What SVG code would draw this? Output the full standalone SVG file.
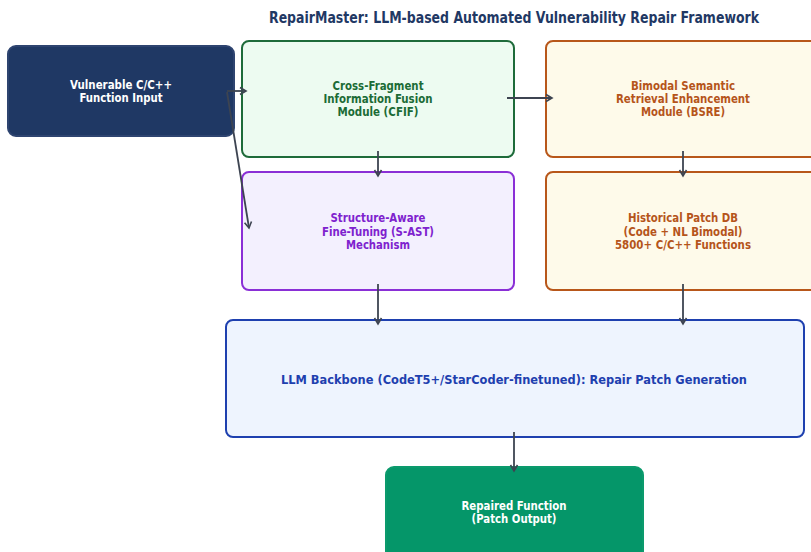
<svg xmlns="http://www.w3.org/2000/svg" width="811" height="552" viewBox="0 0 811 552">
  <defs>
    <marker id="ah" markerWidth="10" markerHeight="10" refX="8" refY="5" orient="auto" markerUnits="userSpaceOnUse">
      <path d="M2,1.5 L8,5 L2,8.5" fill="none" stroke="#3d4451" stroke-width="1.6" stroke-linejoin="miter"/>
    </marker>
  </defs>
  <style>
    text { font-family: "DejaVu Sans", "Liberation Sans", sans-serif; font-weight: bold; font-stretch: condensed; text-anchor: middle; font-size: 12px; }
    .title { font-size: 15px; fill: #1f3864; }
    .box { stroke-width: 2; }
    .conn line { stroke: #3d4451; stroke-width: 1.8; marker-end: url(#ah); }
    .white { fill: #ffffff; }
    .green { fill: #1b6b36; }
    .purple { fill: #7e22ce; }
    .orange { fill: #b5541a; }
    .blue { fill: #1e40af; }
  </style>
  <rect width="811" height="552" fill="#ffffff"/>
  <text class="title" x="514" y="22.5" textLength="490" lengthAdjust="spacingAndGlyphs">RepairMaster: LLM-based Automated Vulnerability Repair Framework</text>

  <g id="input">
    <rect class="box" x="8" y="46" width="226" height="90" rx="8" fill="#1f3864" stroke="#2e4470" stroke-width="1"/>
    <text class="white" x="121" y="88.5" textLength="102" lengthAdjust="spacingAndGlyphs">Vulnerable C/C++</text>
    <text class="white" x="121" y="102" textLength="83" lengthAdjust="spacingAndGlyphs">Function Input</text>
  </g>

  <g id="cfif">
    <rect class="box" x="242" y="41" width="272" height="116" rx="7" fill="#edfbf1" stroke="#1e6b3a"/>
    <text class="green" x="378" y="89.5" textLength="91" lengthAdjust="spacingAndGlyphs">Cross-Fragment</text>
    <text class="green" x="378" y="103" textLength="109" lengthAdjust="spacingAndGlyphs">Information Fusion</text>
    <text class="green" x="378" y="116" textLength="81" lengthAdjust="spacingAndGlyphs">Module (CFIF)</text>
  </g>

  <g id="sast">
    <rect class="box" x="242" y="172" width="272" height="118" rx="7" fill="#f3f0fe" stroke="#8a2fd6"/>
    <text class="purple" x="378" y="222" textLength="95" lengthAdjust="spacingAndGlyphs">Structure-Aware</text>
    <text class="purple" x="378" y="235.5" textLength="112" lengthAdjust="spacingAndGlyphs">Fine-Tuning (S-AST)</text>
    <text class="purple" x="378" y="248.5" textLength="64" lengthAdjust="spacingAndGlyphs">Mechanism</text>
  </g>

  <g id="bsre">
    <rect class="box" x="546" y="41" width="274" height="116" rx="7" fill="#fefaea" stroke="#b8571a"/>
    <text class="orange" x="683" y="89.5" textLength="104" lengthAdjust="spacingAndGlyphs">Bimodal Semantic</text>
    <text class="orange" x="683" y="103" textLength="134" lengthAdjust="spacingAndGlyphs">Retrieval Enhancement</text>
    <text class="orange" x="683" y="116" textLength="84" lengthAdjust="spacingAndGlyphs">Module (BSRE)</text>
  </g>

  <g id="patchdb">
    <rect class="box" x="546" y="172" width="274" height="118" rx="7" fill="#fefaea" stroke="#b8571a"/>
    <text class="orange" x="683" y="222" textLength="110" lengthAdjust="spacingAndGlyphs">Historical Patch DB</text>
    <text class="orange" x="683" y="235.5" textLength="119" lengthAdjust="spacingAndGlyphs">(Code + NL Bimodal)</text>
    <text class="orange" x="683" y="249" textLength="136" lengthAdjust="spacingAndGlyphs">5800+ C/C++ Functions</text>
  </g>

  <g id="llm">
    <rect class="box" x="226" y="320" width="578" height="117" rx="7" fill="#eef4fe" stroke="#1e40af" stroke-width="2.5"/>
    <text class="blue" x="514" y="383.5" textLength="466" lengthAdjust="spacingAndGlyphs">LLM Backbone (CodeT5+/StarCoder-finetuned): Repair Patch Generation</text>
  </g>

  <g id="output">
    <rect class="box" x="386" y="467" width="257" height="100" rx="8" fill="#059669" stroke="#0b9a6c" stroke-width="1"/>
    <text class="white" x="514" y="509.5" textLength="105" lengthAdjust="spacingAndGlyphs">Repaired Function</text>
    <text class="white" x="514" y="523" textLength="85" lengthAdjust="spacingAndGlyphs">(Patch Output)</text>
  </g>

  <g id="connectors" class="conn">
    <line x1="227" y1="91" x2="246" y2="91"/>
    <line x1="227" y1="92" x2="249" y2="228"/>
    <line x1="507" y1="98" x2="552" y2="98"/>
    <line x1="378" y1="151" x2="378" y2="176"/>
    <line x1="683" y1="151" x2="683" y2="176"/>
    <line x1="378" y1="284" x2="378" y2="324"/>
    <line x1="683" y1="284" x2="683" y2="324"/>
    <line x1="514" y1="432" x2="514" y2="471"/>
  </g>
</svg>
